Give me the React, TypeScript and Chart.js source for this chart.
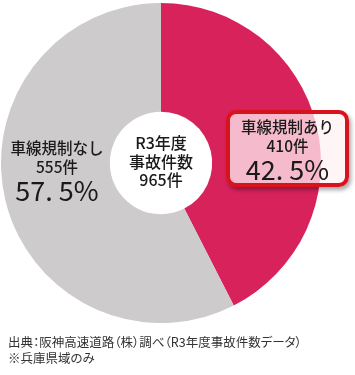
import React, { useEffect, useRef } from "react";
import { Chart, registerables } from "chart.js";

Chart.register(...registerables);

const categories = ["車線規制あり", "車線規制なし"];
const counts = [410, 555];
const percents = ["42. 5%", "57. 5%"];
const centerLines = ["R3年度", "事故件数", "965件"];
const footerLines = ["出典：阪神高速道路（株）調べ（R3年度事故件数データ）", "※兵庫県域のみ"];
const colors = ["#d8225c", "#cdcbcc"];

const FONT = '"Noto Sans CJK JP", "Noto Sans", sans-serif';

export default function App() {
  const ref = useRef<HTMLCanvasElement | null>(null);

  useEffect(() => {
    document.body.style.margin = "0";
    const canvas = ref.current;
    if (!canvas) return;
    const chart = new Chart(canvas, {
      type: "doughnut",
      data: {
        labels: categories,
        datasets: [
          {
            data: counts,
            backgroundColor: colors,
            borderWidth: 0,
          },
        ],
      },
      options: {
        responsive: false,
        animation: false,
        cutout: "32%",
        layout: { padding: { left: 1, top: 3, right: 34, bottom: 52 } },
        plugins: {
          legend: { display: false },
          tooltip: { enabled: false },
        },
      },
    });
    return () => chart.destroy();
  }, []);

  const abs = (s: React.CSSProperties): React.CSSProperties => ({
    position: "absolute",
    fontFamily: FONT,
    color: "#1a1a1a",
    textAlign: "center",
    whiteSpace: "nowrap",
    fontWeight: 500,
    ...s,
  });

  return (
    <div style={{ position: "relative", width: 355, height: 375, background: "#fff", overflow: "hidden" }}>
      <canvas ref={ref} width={355} height={375} style={{ display: "block" }} />
      {/* center */}
      <div style={abs({ left: 111, top: 133, width: 100, fontSize: 16, lineHeight: "18.5px" })}>
        {centerLines.map((l, i) => (
          <div key={i}>{l}</div>
        ))}
      </div>
      {/* left label */}
      <div style={abs({ left: 0, top: 138, width: 114 })}>
        <div style={{ fontSize: 15.5, lineHeight: "19px" }}>{categories[1]}</div>
        <div style={{ fontSize: 15.5, lineHeight: "19px" }}>{counts[1]}件</div>
        <div style={{ fontSize: 27, lineHeight: "28px", fontWeight: 400 }}>{percents[1]}</div>
      </div>
      {/* right box */}
      <div
        style={{
          position: "absolute",
          left: 226,
          top: 110,
          width: 115,
          height: 69,
          border: "4px solid #d7141e",
          borderRadius: 10,
          background: "rgba(255,241,244,0.74)",
          boxShadow: "2px 3px 4px rgba(0,0,0,0.35)",
        }}
      />
      <div style={abs({ left: 226, top: 117, width: 123 })}>
        <div style={{ fontSize: 15.5, lineHeight: "19px" }}>{categories[0]}</div>
        <div style={{ fontSize: 15.5, lineHeight: "19px" }}>{counts[0]}件</div>
        <div style={{ fontSize: 27, lineHeight: "28px", fontWeight: 400 }}>{percents[0]}</div>
      </div>
      {/* footer */}
      <div
        style={abs({
          left: 8,
          top: 334,
          textAlign: "left",
          fontSize: 12.5,
          lineHeight: "16px",
          color: "#333",
          fontWeight: 400,
          fontFeatureSettings: '"palt"',
        })}
      >
        {footerLines.map((l, i) => (
          <div key={i}>{l}</div>
        ))}
      </div>
    </div>
  );
}
